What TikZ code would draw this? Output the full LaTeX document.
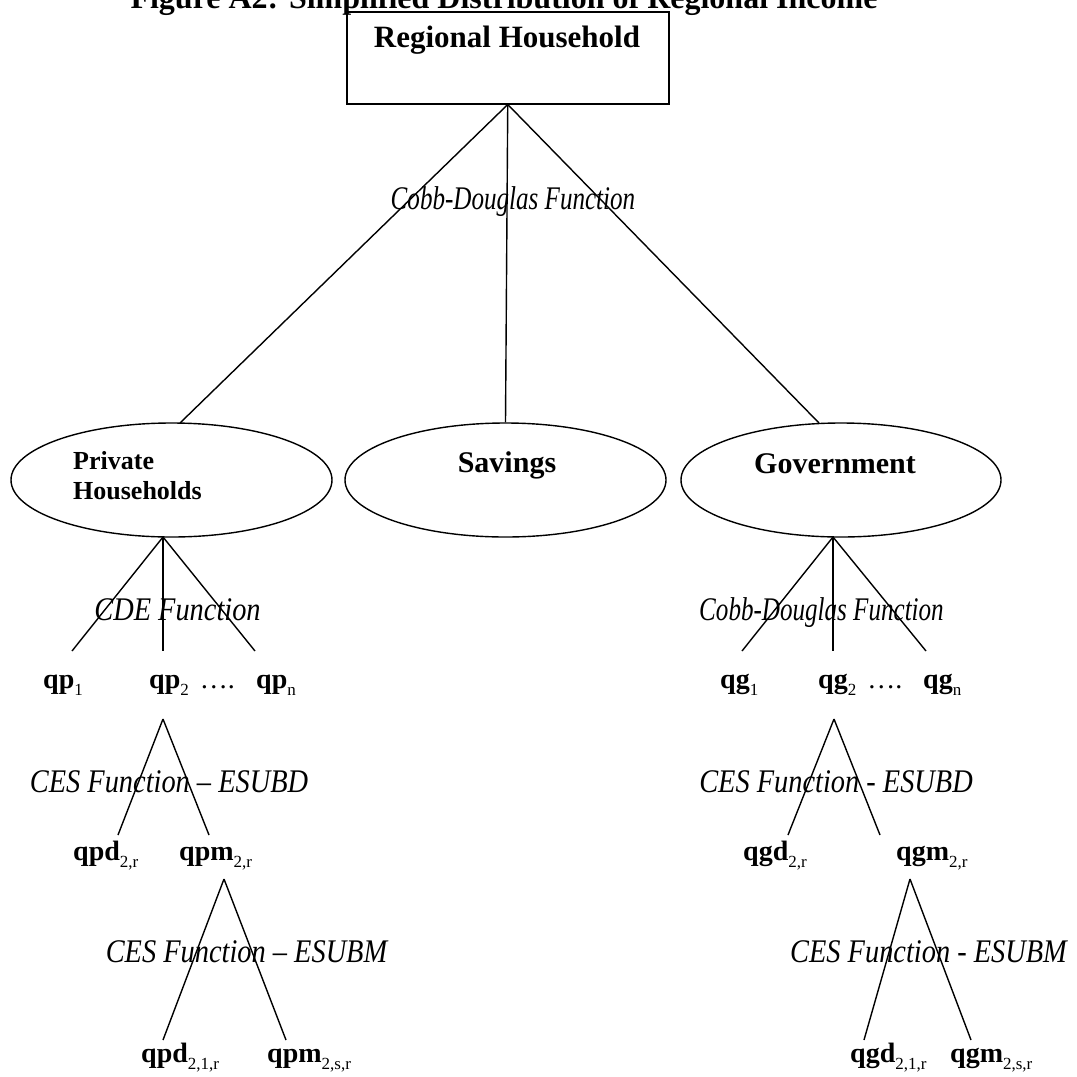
\documentclass[tikz,border=0pt]{standalone}
\usepackage{fontspec}
\setmainfont{Liberation Serif}
\newfontfamily\itnarrow{Liberation Serif Italic}[FakeStretch=0.76]
\newfontfamily\itmid{Liberation Serif Italic}[FakeStretch=0.86]
\usetikzlibrary{shapes.geometric}
\newcommand\fsz[1]{\fontsize{#1}{#1}\selectfont}
\newcommand\sub[1]{\raisebox{-7pt}{\fsz{17}\mdseries #1}}
\begin{document}
\begin{tikzpicture}[x=1pt,y=-1pt,
  txt/.style={inner sep=0pt},
  lbl/.style={inner sep=0pt, anchor=base west, font=\fsz{28}\bfseries},
  fnmid/.style={inner sep=0pt, anchor=base, font=\itmid\fsz{33}},
  fnnar/.style={inner sep=0pt, anchor=base, font=\itnarrow\fsz{33}},
  oval/.style={ellipse, draw, line width=1.4pt, inner sep=0pt},
  link/.style={line width=1.4pt}]
\useasboundingbox (0,0) rectangle (1077,1077);

% title and top box
\node[txt, anchor=base, font=\fsz{32}\bfseries] (title) at (504,8)
  {Figure A2: Simplified Distribution of Regional Income};
\node[draw, line width=1.5pt, inner sep=0pt, minimum width=322pt, minimum height=92pt,
  anchor=north west] (rh) at (346,11) {};
\node[txt, anchor=base, font=\fsz{31}\bfseries] (rhtext) at (507,47) {Regional Household};

% second level
\node[oval, minimum width=321pt, minimum height=114pt] (pe) at (171.5,480) {};
\node[oval, minimum width=321pt, minimum height=114pt] (se) at (505.5,480) {};
\node[oval, minimum width=320pt, minimum height=114pt] (ge) at (841,480) {};
\node[txt, anchor=north west, align=left, font=\fontsize{26}{30}\selectfont\bfseries]
  (petext) at (73,451) {Private\\Households};
\node[txt, anchor=base, font=\fsz{30}\bfseries] (setext) at (507,472) {Savings};
\node[txt, anchor=base, font=\fsz{30}\bfseries] (getext) at (835,473) {Government};

\coordinate (petop) at (180,423);
\coordinate (getop) at (819,423);
\draw[link] (rh.south) -- (petop);
\draw[link] (rh.south) -- (se.north);
\draw[link] (rh.south) -- (getop);
\node[fnnar] (cd1) at (513,209) {Cobb-Douglas Function};

% private household branch
\coordinate (ph) at (163,537);
\coordinate (p1) at (72,651);
\coordinate (p2) at (163,651);
\coordinate (pn) at (255,651);
\draw[link] (ph) -- (p1);
\draw[link] (ph) -- (p2);
\draw[link] (ph) -- (pn);
\node[fnmid] (cde) at (177.5,620) {CDE Function};
\node[lbl] (qp1) at (43,688) {qp\sub{1}};
\node[lbl] (qp2) at (149,688) {qp\sub{2}\hspace{11pt}\mdseries ….};
\node[lbl] (qpn) at (256,688) {qp\sub{n}};

\coordinate (pa1) at (163,719);
\coordinate (pd1) at (118,835);
\coordinate (pm1) at (209,835);
\draw[link] (pa1) -- (pd1);
\draw[link] (pa1) -- (pm1);
\node[fnmid] (cesd1) at (169,792) {CES Function – ESUBD};
\node[lbl] (qpd) at (73,860) {qpd\sub{2,r}};
\node[lbl] (qpm) at (179,860) {qpm\sub{2,r}};

\coordinate (pa2) at (224,879);
\coordinate (pd2) at (163,1040);
\coordinate (pm2) at (286,1040);
\draw[link] (pa2) -- (pd2);
\draw[link] (pa2) -- (pm2);
\node[fnmid] (cesm1) at (246.5,962) {CES Function – ESUBM};
\node[lbl] (qpdd) at (141,1062) {qpd\sub{2,1,r}};
\node[lbl] (qpmm) at (267,1062) {qpm\sub{2,s,r}};

% government branch
\coordinate (gh) at (833,537);
\coordinate (g1) at (742,651);
\coordinate (g2) at (833,651);
\coordinate (gn) at (926,651);
\draw[link] (gh) -- (g1);
\draw[link] (gh) -- (g2);
\draw[link] (gh) -- (gn);
\node[fnnar] (cd2) at (821.5,620) {Cobb-Douglas Function};
\node[lbl] (qg1) at (720,688) {qg\sub{1}};
\node[lbl] (qg2) at (818,688) {qg\sub{2}\hspace{11pt}\mdseries ….};
\node[lbl] (qgn) at (923,688) {qg\sub{n}};

\coordinate (ga1) at (834,719);
\coordinate (gd1) at (788,835);
\coordinate (gm1) at (880,835);
\draw[link] (ga1) -- (gd1);
\draw[link] (ga1) -- (gm1);
\node[fnmid] (cesd2) at (836,792) {CES Function - ESUBD};
\node[lbl] (qgd) at (743,860) {qgd\sub{2,r}};
\node[lbl] (qgm) at (896,860) {qgm\sub{2,r}};

\coordinate (ga2) at (910,879);
\coordinate (gd2) at (864,1040);
\coordinate (gm2) at (971,1040);
\draw[link] (ga2) -- (gd2);
\draw[link] (ga2) -- (gm2);
\node[fnmid] (cesm2) at (928.5,962) {CES Function - ESUBM};
\node[lbl] (qgdd) at (850,1062) {qgd\sub{2,1,r}};
\node[lbl] (qgmm) at (950,1062) {qgm\sub{2,s,r}};
\end{tikzpicture}
\end{document}
